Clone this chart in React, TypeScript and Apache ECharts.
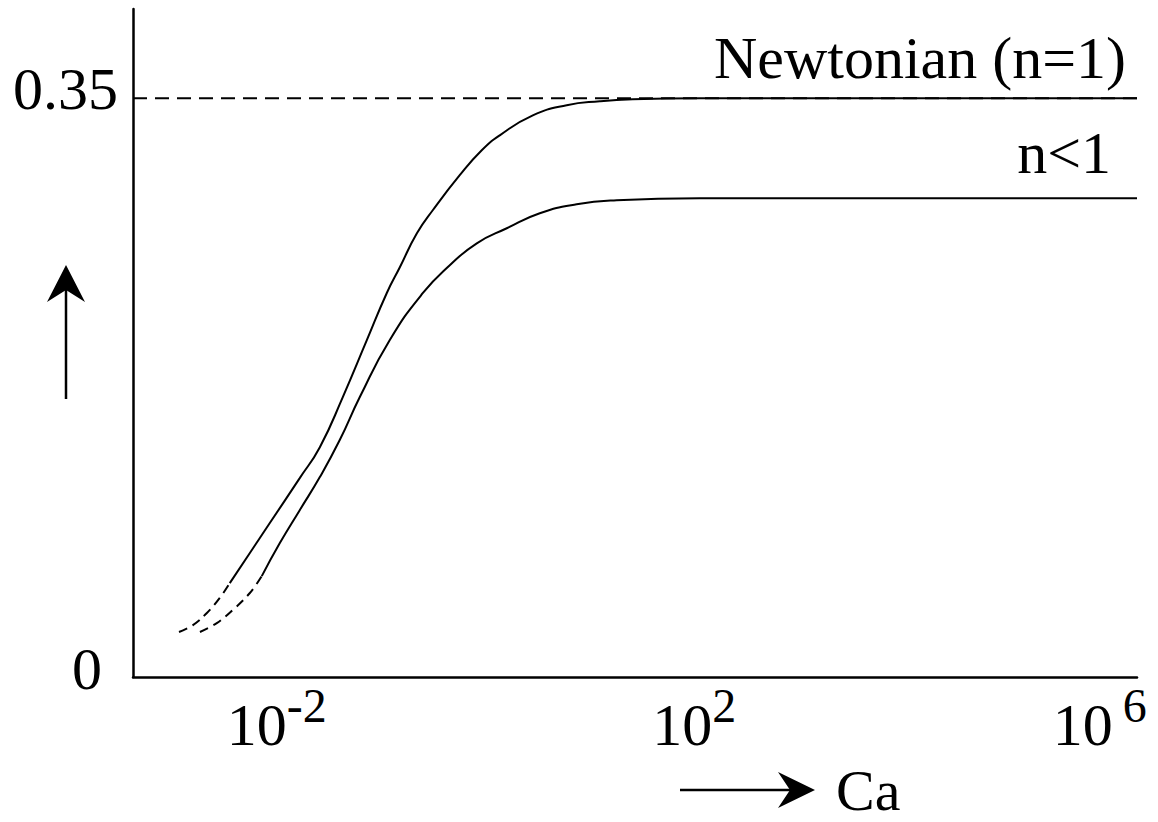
import { useEffect, useRef } from "react";
import * as echarts from "echarts";

// Newtonian (n=1): dashed low-Ca part, then solid curve
const newtonianDashedCa = [1.12e-3, 1.53e-3, 2.09e-3, 2.79e-3, 3.49e-3];
const newtonianDashedVal = [0.0272, 0.0314, 0.0387, 0.0478, 0.0568];
const newtonianCa = [3.49e-3, 5.47e-3, 8.55e-3, 1.67e-2, 2.62e-2, 4.38e-2, 7.5e-2, 0.117, 0.157, 0.23, 0.328, 0.6, 0.982, 1.47, 3.08, 6.58, 13.8, 28.8, 129, 2.3e6];
const newtonianVal = [0.0568, 0.075, 0.0931, 0.1203, 0.139, 0.1693, 0.2037, 0.2321, 0.2478, 0.2684, 0.2823, 0.3035, 0.3186, 0.3276, 0.3397, 0.3458, 0.3482, 0.3494, 0.35, 0.35];

// n<1 (shear thinning)
const thinDashedCa = [1.79e-3, 2.61e-3, 3.73e-3, 5.47e-3, 7.14e-3];
const thinDashedVal = [0.0272, 0.0326, 0.0405, 0.0508, 0.061];
const thinCa = [7.14e-3, 1.07e-2, 1.67e-2, 2.62e-2, 4.09e-2, 6.41e-2, 0.125, 0.262, 0.48, 0.879, 1.72, 3.6, 8.22, 20.1, 129, 2.3e6];
const thinVal = [0.061, 0.081, 0.1009, 0.1209, 0.1433, 0.1693, 0.2037, 0.2321, 0.249, 0.2623, 0.2714, 0.2805, 0.2859, 0.2883, 0.2895, 0.2895];

// asymptote
const asymptoteCa = [4e-4, 2.3e6];
const asymptoteVal = [0.35, 0.35];

// axes
const xMin = 4e-4;
const xMax = 2.3e6;
const xTickExponents = [-2, 2, 6];
const yMin = 0;
const yMax = 0.404;
const yTickValues = [0, 0.35];

const FONT = "'Liberation Serif', 'DejaVu Serif', serif";

const zip = (xs: number[], ys: number[]) => xs.map((x, i) => [x, ys[i]]);

export default function App() {
  const ref = useRef<HTMLDivElement>(null);
  useEffect(() => {
    if (!ref.current) return;
    const chart = echarts.init(ref.current, undefined, { renderer: "svg" });
    const solid = { color: "#000", width: 2, type: "solid" as const };
    const dashed = { color: "#000", width: 2, type: [9, 6] as any };
    chart.setOption({
      animation: false,
      backgroundColor: "#fff",
      textStyle: { fontFamily: FONT, color: "#000" },
      grid: { left: 133, right: 21, top: 9, bottom: 145, containLabel: false },
      xAxis: {
        type: "log",
        logBase: 10,
        min: xMin,
        max: xMax,
        axisLine: { show: true, lineStyle: { color: "#000", width: 2.5 } },
        axisTick: { show: false },
        splitLine: { show: false },
        axisLabel: {
          margin: 18,
          showMinLabel: true,
          showMaxLabel: true,
          formatter: (v: number) => {
            const e = Math.log10(v);
            const k = Math.round(e);
            if (Math.abs(e - k) > 1e-6 || !xTickExponents.includes(k)) return "";
            if (k === 6) return `{base|10}{sup6|${k}}`;
            if (k === 2) return `{base2|10}{sup|${k}}`;
            return `{base|10}{sup|${k}}`;
          },
          rich: {
            base: { fontFamily: FONT, fontSize: 60, lineHeight: 60, color: "#000" },
            base2: { fontFamily: FONT, fontSize: 60, lineHeight: 60, color: "#000", padding: [0, 0, 0, 12] },
            sup: { fontFamily: FONT, fontSize: 48, lineHeight: 20, color: "#000", padding: [0, 0, 40, 0] },
            sup6: { fontFamily: FONT, fontSize: 48, lineHeight: 20, color: "#000", padding: [0, 0, 40, 10] },
          },
        },
      },
      yAxis: {
        type: "value",
        min: yMin,
        max: yMax,
        interval: 0.35,
        axisLine: { show: true, lineStyle: { color: "#000", width: 2.5 } },
        axisTick: { show: false },
        splitLine: { show: false },
        axisLabel: {
          margin: 15,
          showMaxLabel: false,
          formatter: (v: number) => {
            if (Math.abs(v - yTickValues[0]) < 1e-9) return "{z|0}";
            if (Math.abs(v - yTickValues[1]) < 1e-9) return "{a|0.35}";
            return "";
          },
          rich: {
            a: { fontFamily: FONT, fontSize: 60, color: "#000", padding: [0, 0, 18, 0] },
            z: { fontFamily: FONT, fontSize: 60, color: "#000", padding: [0, 16, 16, 0] },
          },
        },
      },
      series: [
        {
          type: "line",
          data: zip(asymptoteCa, asymptoteVal),
          showSymbol: false,
          lineStyle: { color: "#000", width: 2, type: [14, 8] as any },
          z: 1,
        },
        {
          type: "line",
          data: zip(newtonianDashedCa, newtonianDashedVal),
          showSymbol: false,
          smooth: 0.4,
          lineStyle: dashed,
        },
        {
          type: "line",
          data: zip(newtonianCa, newtonianVal),
          showSymbol: false,
          smooth: 0.5,
          lineStyle: solid,
          z: 3,
        },
        {
          type: "line",
          data: zip(thinDashedCa, thinDashedVal),
          showSymbol: false,
          smooth: 0.4,
          lineStyle: dashed,
        },
        {
          type: "line",
          data: zip(thinCa, thinVal),
          showSymbol: false,
          smooth: 0.5,
          lineStyle: solid,
          z: 3,
        },
      ],
      graphic: [
        {
          type: "text",
          style: { text: "Newtonian (n=1)", x: 1126, y: 58, align: "right", verticalAlign: "middle", font: `60px ${FONT}`, fill: "#000" },
        },
        {
          type: "text",
          style: { text: "n<1", x: 1111, y: 153, align: "right", verticalAlign: "middle", font: `60px ${FONT}`, fill: "#000" },
        },
        {
          type: "text",
          style: { text: "Ca", x: 836, y: 790, align: "left", verticalAlign: "middle", lineHeight: 48, font: `58px ${FONT}`, fill: "#000" },
        },
        { type: "line", shape: { x1: 680, y1: 790, x2: 800, y2: 790 }, style: { stroke: "#000", lineWidth: 2.5 } },
        { type: "polygon", shape: { points: [[815, 790], [778, 772], [790, 790], [778, 808]] }, style: { fill: "#000" } },
        { type: "line", shape: { x1: 66, y1: 399, x2: 66, y2: 280 }, style: { stroke: "#000", lineWidth: 2.5 } },
        { type: "polygon", shape: { points: [[66, 265], [47, 302], [66, 290], [85, 302]] }, style: { fill: "#000" } },
      ],
    });
    return () => chart.dispose();
  }, []);
  return <div ref={ref} style={{ position: "fixed", left: 0, top: 0, width: 1158, height: 822, background: "#fff" }} />;
}
